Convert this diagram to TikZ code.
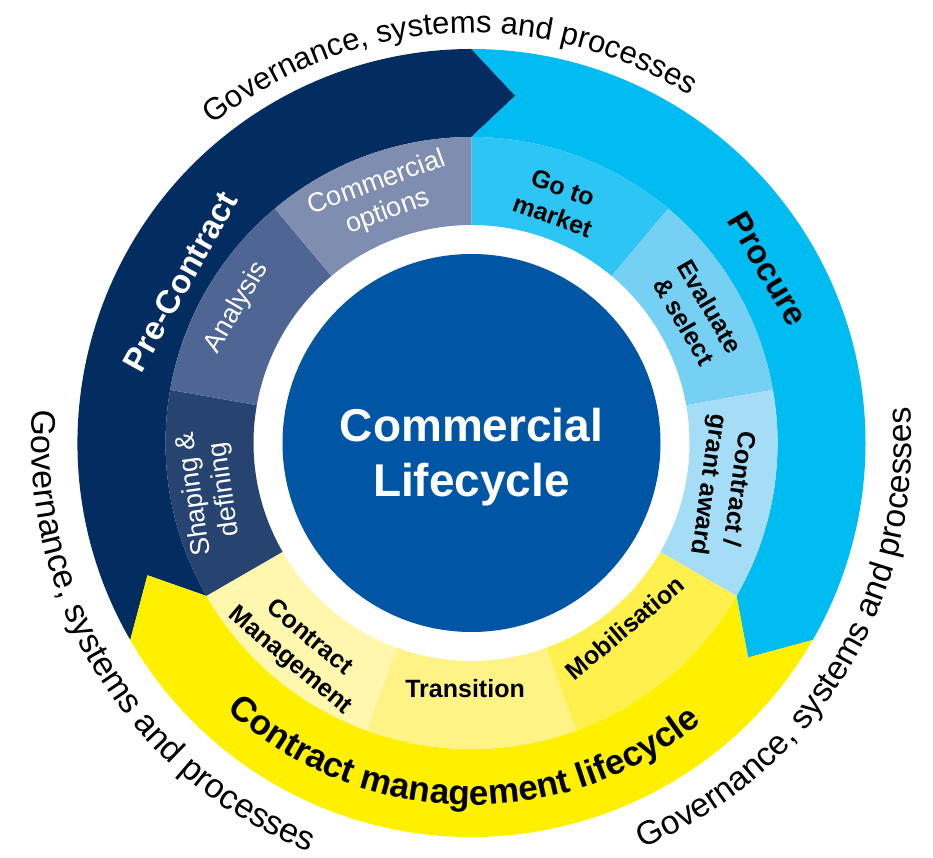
\documentclass[tikz,border=0pt]{standalone}
\usepackage{fontspec}
\setmainfont{Liberation Sans}
\usetikzlibrary{decorations.text}
\definecolor{navyband}{HTML}{032D60}
\definecolor{segshape}{HTML}{27436F}
\definecolor{seganal}{HTML}{4F6593}
\definecolor{segcomm}{HTML}{7F8DB1}
\definecolor{coreblue}{HTML}{0055A5}
\definecolor{procband}{HTML}{00BCF1}
\definecolor{seggtm}{HTML}{2CC5F4}
\definecolor{segeval}{HTML}{76D0F4}
\definecolor{segaward}{HTML}{A6DDF6}
\definecolor{yelband}{HTML}{FFF000}
\definecolor{segmob}{HTML}{FFF04D}
\definecolor{segtrans}{HTML}{FFF385}
\definecolor{segcm}{HTML}{FFF7AD}
\newcommand{\ringseg}[3]{\fill[#3] (#1:218) arc[start angle=#1,end angle=#2,radius=218] -- (#2:306) arc[start angle=#2,end angle=#1,radius=306] -- cycle;}
\tikzset{
  lblw/.style={text=white, font=\fontsize{27}{31}\selectfont, align=center, inner sep=0pt},
  lblb/.style={text=black, font=\fontsize{25}{30}\selectfont\bfseries, align=center, inner sep=0pt},
  bandlbl/.style={font=\fontsize{33}{40}\selectfont\bfseries, inner sep=0pt},
  outertext/.style={decorate, decoration={text along path, text align=center, text color=black, text={|\fontsize{#1}{40}\selectfont|Governance, systems and processes}}}
}
\begin{document}
\begin{tikzpicture}[x=1pt,y=1pt]
\useasboundingbox (-471.5,-415) rectangle (461.5,443);
% outer band arrows
\fill[navyband] (210:394) arc[start angle=210,end angle=90,radius=394] -- (82.8:350) -- (90:306) arc[start angle=90,end angle=210,radius=306] -- (202.2:350) -- cycle;
\fill[procband] (90:394) arc[start angle=90,end angle=-30,radius=394] -- (-37.8:350) -- (-30:306) arc[start angle=-30,end angle=90,radius=306] -- (82.8:350) -- cycle;
\fill[yelband] (-30:394) arc[start angle=-30,end angle=-150,radius=394] -- (-157.8:350) -- (-150:306) arc[start angle=-150,end angle=-30,radius=306] -- (-37.8:350) -- cycle;
% inner ring segments
\ringseg{170}{210}{segshape}
\ringseg{130}{170}{seganal}
\ringseg{90}{130}{segcomm}
\ringseg{50}{90}{seggtm}
\ringseg{10}{50}{segeval}
\ringseg{-30}{10}{segaward}
\ringseg{-70}{-30}{segmob}
\ringseg{-110}{-70}{segtrans}
\ringseg{-150}{-110}{segcm}
% centre
\node[circle, fill=coreblue, minimum size=378pt, inner sep=0pt] (core) at (0,0) {};
\node[text=white, font=\fontsize{46}{55}\selectfont\bfseries, anchor=base] (corea) at (0,1) {Commercial};
\node[text=white, font=\fontsize{46}{55}\selectfont\bfseries, anchor=base] (coreb) at (0,-54) {Lifecycle};
% segment labels
\node[lblw, rotate=20] (comm) at (110:261) {Commercial\\options};
\node[lblw, rotate=60] (anal) at (150:271) {Analysis};
\node[lblw, rotate=98] (shape) at (190.6:266) {Shaping \&\\defining};
\node[lblb, rotate=-20] (gtm) at (70.3:256) {Go to\\market};
\node[lblb, rotate=-60] (eval) at (29.8:260) {Evaluate\\\& select};
\node[lblb, rotate=-98] (award) at (-9.9:255) {Contract /\\grant award};
\node[lblb, rotate=40] (mob) at (-50.3:240) {Mobilisation};
\node[lblb] (trans) at (-91.5:246) {Transition};
\node[lblb, rotate=-40] (cm) at (-129.8:269) {Contract\\Management};
% band labels
\node[bandlbl, text=white, rotate=61] (pre) at (151:333) {Pre-Contract};
\node[bandlbl, text=black, rotate=-59.6] (proc) at (30.4:344) {Procure};
\path[decorate, decoration={text along path, text align=center, text color=black, text={|\fontsize{35}{42}\selectfont\bfseries|Contract management lifecycle}}] (-150:362) arc[start angle=-150,end angle=-33,radius=362];
% outer texts
\path[outertext=31] (153.5:410) arc[start angle=153.5,end angle=33.5,radius=410];
\path[outertext=34] (150.5:440) arc[start angle=150.5,end angle=273.5,radius=440];
\path[outertext=33.5] (-92:440) arc[start angle=-92,end angle=29.6,radius=440];
\end{tikzpicture}
\end{document}
